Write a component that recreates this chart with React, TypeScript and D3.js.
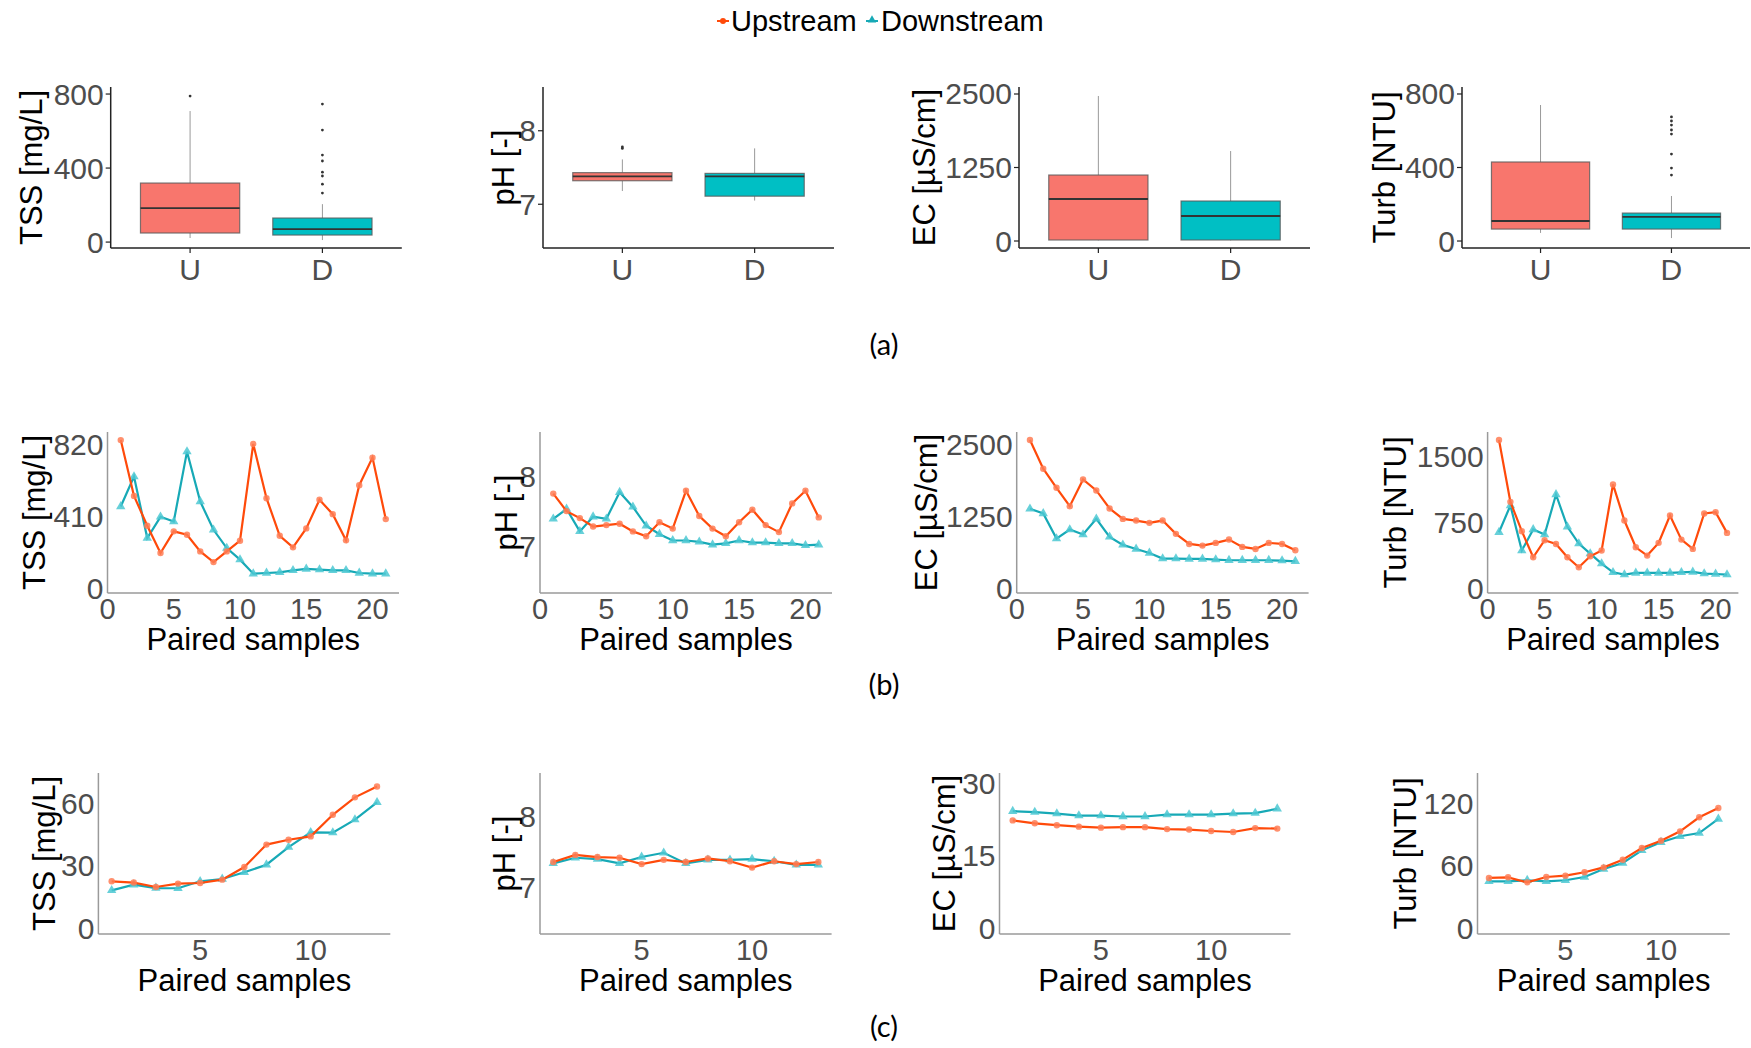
import React from "react";
import * as d3 from "d3";

// colours (ggplot-ish)
const UP_COL = "#FF4A0A";
const DOWN_COL = "#17A9B6";
const BOX_U = "#F8766D";
const BOX_D = "#00BFC4";
const TICK_COL = "#4D4D4D";
const FONT = "'Liberation Sans', Arial, sans-serif";

const boxCats = ["U", "D"];

// (a) box plot stats: [lower whisker, q1, median, q3, upper whisker]
const tssBoxU = [22, 49, 184, 319, 708];
const tssBoxD = [11, 38, 70, 130, 205];
const tssOutU = [789];
const tssOutD = [746, 605, 470, 438, 378, 357, 313, 265];
const phBoxU = [7.18, 7.32, 7.38, 7.43, 7.61];
const phBoxD = [7.05, 7.11, 7.38, 7.42, 7.76];
const phOutU = [7.76, 7.78];
const phOutD: number[] = [];
const ecBoxU = [10, 17, 714, 1122, 2466];
const ecBoxD = [10, 17, 425, 680, 1530];
const ecOutU: number[] = [];
const ecOutD: number[] = [];
const turbBoxU = [44, 65, 109, 430, 740];
const turbBoxD = [16, 65, 131, 152, 245];
const turbOutU: number[] = [];
const turbOutD = [675, 653, 631, 604, 582, 473, 397, 359];

// (b) 21 paired samples
const tssUpB = [848, 530, 360, 205, 328, 309, 214, 153, 214, 275, 826, 517, 303, 237, 345, 508, 426, 277, 591, 748, 398];
const tssDownB = [470, 640, 290, 411, 384, 782, 498, 337, 233, 167, 87, 91, 95, 106, 114, 110, 106, 106, 91, 87, 87];
const phUpB = [7.76, 7.51, 7.41, 7.29, 7.31, 7.33, 7.22, 7.15, 7.35, 7.26, 7.8, 7.44, 7.26, 7.15, 7.35, 7.53, 7.31, 7.21, 7.62, 7.8, 7.42];
const phDownB = [7.4, 7.54, 7.22, 7.43, 7.4, 7.78, 7.57, 7.3, 7.18, 7.09, 7.09, 7.07, 7.03, 7.05, 7.09, 7.06, 7.06, 7.05, 7.05, 7.02, 7.03];
const ecUpB = [2576, 2076, 1744, 1424, 1890, 1698, 1384, 1203, 1174, 1134, 1174, 942, 767, 738, 785, 843, 715, 680, 785, 767, 657];
const ecDownB = [1378, 1297, 860, 1017, 930, 1203, 889, 750, 680, 610, 512, 512, 506, 506, 494, 483, 483, 483, 483, 477, 465];
const turbUpB = [1681, 982, 650, 355, 548, 506, 355, 242, 366, 431, 1179, 771, 468, 374, 518, 827, 555, 450, 850, 865, 631];
const turbDownB = [638, 941, 431, 669, 612, 1065, 699, 510, 397, 283, 185, 159, 178, 178, 178, 178, 185, 189, 170, 166, 159];

// (c) 13 paired samples
const tssUpC = [22.7, 22.1, 20.0, 21.6, 21.9, 23.5, 29.5, 40.2, 42.5, 44.1, 54.4, 62.7, 67.9];
const tssDownC = [18.4, 21.1, 19.5, 19.4, 22.7, 23.8, 27.0, 30.6, 39.0, 46.0, 45.9, 52.1, 60.3];
const phUpC = [7.36, 7.46, 7.43, 7.42, 7.33, 7.39, 7.36, 7.41, 7.37, 7.28, 7.37, 7.33, 7.36];
const phDownC = [7.34, 7.42, 7.4, 7.34, 7.43, 7.49, 7.34, 7.39, 7.39, 7.4, 7.37, 7.32, 7.32];
const ecUpC = [22.3, 21.7, 21.3, 21.0, 20.8, 20.9, 20.9, 20.5, 20.4, 20.1, 19.9, 20.7, 20.6];
const ecDownC = [24.2, 24.0, 23.7, 23.3, 23.3, 23.1, 23.1, 23.5, 23.5, 23.5, 23.7, 23.8, 24.7];
const turbUpC = [48.6, 49.2, 44.4, 49.5, 50.8, 54.0, 58.7, 66.0, 77.2, 84.1, 93.0, 106.4, 115.3];
const turbDownC = [45.4, 45.4, 46.4, 45.4, 46.4, 49.5, 57.2, 62.9, 74.9, 82.6, 88.3, 91.4, 104.8];

// tick labels
const tssTicksA = [0, 400, 800];
const phTicks = [7, 8];
const ecTicks = [0, 1250, 2500];
const turbTicksA = [0, 400, 800];
const tssTicksB = [0, 410, 820];
const turbTicksB = [0, 750, 1500];
const xTicksB = [0, 5, 10, 15, 20];
const tssTicksC = [0, 30, 60];
const ecTicksC = [0, 15, 30];
const turbTicksC = [0, 60, 120];
const xTicksC = [5, 10];

const labels = ["TSS [mg/L]", "pH [-]", "EC [µS/cm]", "Turb [NTU]"];

type BoxProps = {
  x0: number; x1: number; y0: number; y1: number;
  domain: [number, number]; ticks: number[];
  statsU: number[]; statsD: number[]; outU: number[]; outD: number[];
  label: string; labelX: number;
};

function BoxPanel(p: BoxProps) {
  const x = d3.scalePoint<string>().domain(boxCats).range([p.x0, p.x1]).padding(0.6);
  const y = d3.scaleLinear().domain(p.domain).range([p.y1, p.y0]);
  const bw = x.step() * 0.75;
  const sets = [
    { c: "U", s: p.statsU, o: p.outU, fill: BOX_U },
    { c: "D", s: p.statsD, o: p.outD, fill: BOX_D },
  ];
  return (
    <g>
      {sets.map((b) => {
        const cx = x(b.c)!;
        return (
          <g key={b.c}>
            <line x1={cx} x2={cx} y1={y(b.s[0])} y2={y(b.s[1])} stroke="#999" strokeWidth={1} />
            <line x1={cx} x2={cx} y1={y(b.s[3])} y2={y(b.s[4])} stroke="#999" strokeWidth={1} />
            <rect x={cx - bw / 2} y={y(b.s[3])} width={bw} height={y(b.s[1]) - y(b.s[3])}
              fill={b.fill} stroke="#5a5a5a" strokeOpacity={0.8} strokeWidth={1.2} />
            <line x1={cx - bw / 2} x2={cx + bw / 2} y1={y(b.s[2])} y2={y(b.s[2])} stroke="#333" strokeWidth={1.8} />
            {b.o.map((v, i) => (
              <circle key={i} cx={cx} cy={y(v)} r={1.4} fill="#333" />
            ))}
          </g>
        );
      })}
      <line x1={p.x0} x2={p.x0} y1={p.y0} y2={p.y1} stroke="#222" strokeWidth={1.5} />
      <line x1={p.x0} x2={p.x1} y1={p.y1} y2={p.y1} stroke="#222" strokeWidth={1.5} />
      {p.ticks.map((t) => (
        <g key={t}>
          <line x1={p.x0 - 5} x2={p.x0} y1={y(t)} y2={y(t)} stroke="#222" strokeWidth={1.2} />
          <text x={p.x0 - 7} y={y(t)} textAnchor="end" dominantBaseline="central"
            fontSize={30} fill={TICK_COL}>{t}</text>
        </g>
      ))}
      {boxCats.map((c) => (
        <g key={c}>
          <line x1={x(c)!} x2={x(c)!} y1={p.y1} y2={p.y1 + 5} stroke="#222" strokeWidth={1.2} />
          <text x={x(c)!} y={p.y1 + 21} textAnchor="middle" dominantBaseline="central"
            fontSize={30} fill={TICK_COL}>{c}</text>
        </g>
      ))}
      <text transform={`translate(${p.labelX},${(p.y0 + p.y1) / 2}) rotate(-90)`}
        textAnchor="middle" dominantBaseline="central" fontSize={31} fill="#000">{p.label}</text>
    </g>
  );
}

type LineProps = {
  x0: number; x1: number; y0: number; y1: number;
  xDomain: [number, number]; yDomain: [number, number];
  xTicks: number[]; yTicks: number[];
  up: number[]; down: number[];
  label: string; labelX: number;
};

function LinePanel(p: LineProps) {
  const x = d3.scaleLinear().domain(p.xDomain).range([p.x0, p.x1]);
  const y = d3.scaleLinear().domain(p.yDomain).range([p.y1, p.y0]);
  const line = d3.line<number>().x((_, i) => x(i + 1)).y((d) => y(d));
  const tri = d3.symbol().type(d3.symbolTriangle).size(38)()!;
  return (
    <g>
      <line x1={p.x0} x2={p.x0} y1={p.y0} y2={p.y1} stroke="#9a9a9a" strokeWidth={1.5} />
      <line x1={p.x0} x2={p.x1} y1={p.y1} y2={p.y1} stroke="#9a9a9a" strokeWidth={1.5} />
      <path d={line(p.down)!} fill="none" stroke={DOWN_COL} strokeWidth={2.2} />
      {p.down.map((d, i) => (
        <path key={i} d={tri} transform={`translate(${x(i + 1)},${y(d)})`} fill="#4cc8d2" fillOpacity={0.85} />
      ))}
      <path d={line(p.up)!} fill="none" stroke={UP_COL} strokeWidth={2.2} />
      {p.up.map((d, i) => (
        <circle key={i} cx={x(i + 1)} cy={y(d)} r={3.2} fill="#ff7d55" fillOpacity={0.85} />
      ))}
      {p.yTicks.map((t) => (
        <text key={t} x={p.x0 - 4} y={y(t)} textAnchor="end" dominantBaseline="central"
          fontSize={30} fill={TICK_COL}>{t}</text>
      ))}
      {p.xTicks.map((t) => (
        <text key={t} x={x(t)} y={p.y1 + 16} textAnchor="middle" dominantBaseline="central"
          fontSize={29} fill={TICK_COL}>{t}</text>
      ))}
      <text x={(p.x0 + p.x1) / 2} y={p.y1 + 57} textAnchor="middle" fontSize={31} fill="#000">
        Paired samples
      </text>
      <text transform={`translate(${p.labelX},${(p.y0 + p.y1) / 2}) rotate(-90)`}
        textAnchor="middle" dominantBaseline="central" fontSize={31} fill="#000">{p.label}</text>
    </g>
  );
}

export default function App() {
  const rowA = { y0: 87, y1: 248 };
  const rowB = { y0: 432, y1: 593 };
  const rowC = { y0: 773, y1: 934 };
  const tri = d3.symbol().type(d3.symbolTriangle).size(30)()!;
  const capFont = "Lato, 'DejaVu Sans', sans-serif";
  return (
    <div style={{ position: "absolute", left: 0, top: 0 }}>
      <svg width={1751} height={1048} style={{ display: "block", fontFamily: FONT, background: "#fff" }}>
        {/* legend */}
        <g>
          <line x1={717} x2={729} y1={21} y2={21} stroke={UP_COL} strokeWidth={2} />
          <circle cx={723} cy={21} r={3} fill={UP_COL} />
          <text x={731} y={21} dominantBaseline="central" fontSize={29} fill="#000">Upstream</text>
          <line x1={866} x2={878} y1={21} y2={21} stroke={DOWN_COL} strokeWidth={2} />
          <path d={tri} transform="translate(872,20)" fill={DOWN_COL} />
          <text x={881} y={21} dominantBaseline="central" fontSize={29} fill="#000">Downstream</text>
        </g>

        {/* (a) */}
        <BoxPanel x0={110.7} x1={401.8} {...rowA} domain={[-32, 838]} ticks={tssTicksA}
          statsU={tssBoxU} statsD={tssBoxD} outU={tssOutU} outD={tssOutD} label={labels[0]} labelX={31} />
        <BoxPanel x0={543} x1={834} {...rowA} domain={[6.405, 8.595]} ticks={phTicks}
          statsU={phBoxU} statsD={phBoxD} outU={phOutU} outD={phOutD} label={labels[1]} labelX={503} />
        <BoxPanel x0={1019} x1={1310} {...rowA} domain={[-119, 2619]} ticks={ecTicks}
          statsU={ecBoxU} statsD={ecBoxD} outU={ecOutU} outD={ecOutD} label={labels[2]} labelX={924} />
        <BoxPanel x0={1462} x1={1750} {...rowA} domain={[-38, 838]} ticks={turbTicksA}
          statsU={turbBoxU} statsD={turbBoxD} outU={turbOutU} outD={turbOutD} label={labels[3]} labelX={1384} />
        <text x={884} y={343} textAnchor="middle" dominantBaseline="central" fontSize={29}
          fontFamily={capFont} fill="#000">(a)</text>

        {/* (b) */}
        <LinePanel x0={107.5} x1={399} {...rowB} xDomain={[0, 22]} yDomain={[-23, 894]}
          xTicks={xTicksB} yTicks={tssTicksB} up={tssUpB} down={tssDownB} label={labels[0]} labelX={34} />
        <LinePanel x0={540} x1={832} {...rowB} xDomain={[0, 22]} yDomain={[6.34, 8.64]}
          xTicks={xTicksB} yTicks={phTicks} up={phUpB} down={phDownB} label={labels[1]} labelX={506} />
        <LinePanel x0={1016.7} x1={1308.6} {...rowB} xDomain={[0, 22]} yDomain={[-87, 2715]}
          xTicks={xTicksB} yTicks={ecTicks} up={ecUpB} down={ecDownB} label={labels[2]} labelX={926} />
        <LinePanel x0={1487.6} x1={1738.4} {...rowB} xDomain={[0, 22]} yDomain={[-49, 1772]}
          xTicks={xTicksB} yTicks={turbTicksB} up={turbUpB} down={turbDownB} label={labels[3]} labelX={1395} />
        <text x={884} y={683} textAnchor="middle" dominantBaseline="central" fontSize={29}
          fontFamily={capFont} fill="#000">(b)</text>

        {/* (c) */}
        <LinePanel x0={98.4} x1={390.3} {...rowC} xDomain={[0.4, 13.6]} yDomain={[-2.4, 74.3]}
          xTicks={xTicksC} yTicks={tssTicksC} up={tssUpC} down={tssDownC} label={labels[0]} labelX={44} />
        <LinePanel x0={540} x1={831.6} {...rowC} xDomain={[0.4, 13.6]} yDomain={[6.34, 8.62]}
          xTicks={xTicksC} yTicks={phTicks} up={phUpC} down={phDownC} label={labels[1]} labelX={504} />
        <LinePanel x0={999.5} x1={1290.5} {...rowC} xDomain={[0.4, 13.6]} yDomain={[-1.2, 32.1]}
          xTicks={xTicksC} yTicks={ecTicksC} up={ecUpC} down={ecDownC} label={labels[2]} labelX={944} />
        <LinePanel x0={1477.5} x1={1729.8} {...rowC} xDomain={[0.4, 13.6]} yDomain={[-4.8, 148.6]}
          xTicks={xTicksC} yTicks={turbTicksC} up={turbUpC} down={turbDownC} label={labels[3]} labelX={1405} />
        <text x={884} y={1025} textAnchor="middle" dominantBaseline="central" fontSize={29}
          fontFamily={capFont} fill="#000">(c)</text>
      </svg>
    </div>
  );
}
